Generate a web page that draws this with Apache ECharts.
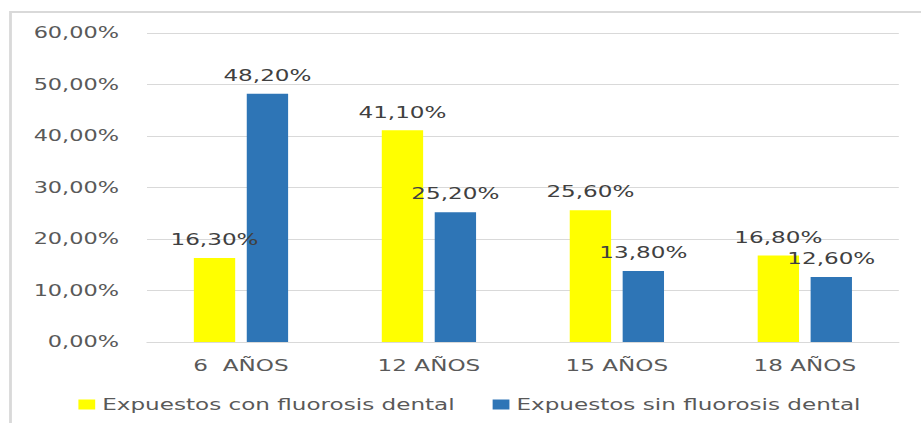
<!DOCTYPE html>
<html>
<head>
<meta charset="utf-8">
<script src="https://cdn.jsdelivr.net/npm/echarts@6/dist/echarts.min.js"></script>
<style>
    html, body { margin: 0; padding: 0; background: #fff; overflow: hidden; }
    /* the reference picture is stretched sideways, so the chart is drawn narrow and widened */
    #fluorosis {
        width: 658px;
        height: 423px;
        transform: scaleX(1.4);
        transform-origin: 0 0;
    }
</style>
</head>
<body>
<div id="fluorosis"></div>
<script>
    // datos
    var categorias = ['6  AÑOS', '12 AÑOS', '15 AÑOS', '18 AÑOS'];
    var conFluorosis = [16.3, 41.1, 25.6, 16.8];
    var sinFluorosis = [48.2, 25.2, 13.8, 12.6];
    var nombres = ['Expuestos con fluorosis dental', 'Expuestos sin fluorosis dental'];
    var ticksY = [0, 10, 20, 30, 40, 50, 60];

    function pct(v) {
        return Number(v).toFixed(2).replace('.', ',') + '%';
    }

    var fuente = '"DejaVu Sans", sans-serif';
    var myChart = echarts.init(document.getElementById('fluorosis'), null, { renderer: 'svg' });

    myChart.setOption({
        animation: false,
        color: ['#FFFF00', '#2E75B6'],
        graphic: [{
            type: 'rect',
            shape: { x: 7.5, y: 12, width: 700, height: 500 },
            style: { fill: 'none', stroke: '#d9d9d9', lineWidth: 2 },
            silent: true
        }],
        grid: { left: 105, right: 16, top: 33, bottom: 81 },
        legend: {
            left: 51,
            top: 391,
            itemWidth: 12,
            itemHeight: 10,
            itemGap: 27,
            icon: 'rect',
            textStyle: { color: '#595959', fontSize: 16.5, fontFamily: fuente, padding: [0, 0, 0, 0] },
            data: nombres
        },
        xAxis: {
            type: 'category',
            data: categorias,
            axisLine: { lineStyle: { color: '#d9d9d9', width: 1 } },
            axisTick: { show: false },
            axisLabel: { color: '#595959', fontSize: 16.5, fontFamily: fuente, margin: 15 }
        },
        yAxis: {
            type: 'value',
            min: ticksY[0],
            max: ticksY[ticksY.length - 1],
            interval: 10,
            axisLine: { show: false },
            axisTick: { show: false },
            splitLine: { lineStyle: { color: '#d9d9d9', width: 1 } },
            axisLabel: {
                color: '#595959', fontSize: 16, fontFamily: fuente, margin: 20,
                formatter: pct
            }
        },
        series: [{
            name: nombres[0],
            type: 'bar',
            barWidth: '22%',
            barGap: '28%',
            data: conFluorosis,
            label: {
                show: true, position: 'top', distance: 10,
                color: '#404040', fontSize: 16.5, fontFamily: fuente,
                formatter: function (p) { return pct(p.value); }
            }
        }, {
            name: nombres[1],
            type: 'bar',
            barWidth: '22%',
            barGap: '28%',
            data: sinFluorosis,
            label: {
                show: true, position: 'top', distance: 10,
                color: '#404040', fontSize: 16.5, fontFamily: fuente,
                formatter: function (p) { return pct(p.value); }
            }
        }]
    });
</script>
</body>
</html>
